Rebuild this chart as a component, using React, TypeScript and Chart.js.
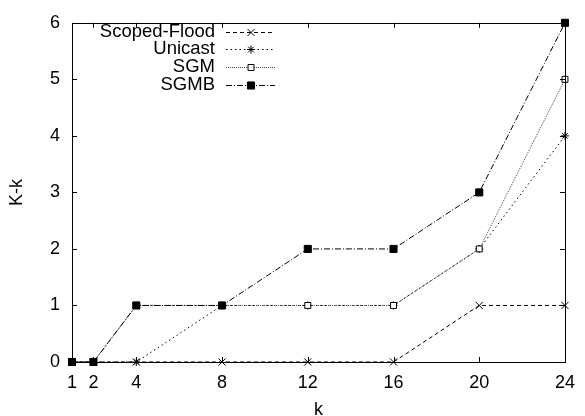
import React, { useEffect, useRef } from "react";
import { Chart, registerables } from "chart.js";

Chart.register(...registerables);

// k values along the x axis (also the x tick positions)
const kValues = [1, 2, 4, 8, 12, 16, 20, 24];
// K-k for each scheme
const scopedFlood = [0, 0, 0, 0, 0, 0, 1, 1];
const unicast = [0, 0, 0, 1, 1, 1, 2, 4];
const sgm = [0, 0, 1, 1, 1, 1, 2, 5];
const sgmb = [0, 0, 1, 1, 2, 2, 3, 6];
const yTicks = [0, 1, 2, 3, 4, 5, 6];
const seriesNames = ["Scoped-Flood", "Unicast", "SGM", "SGMB"];

const FONT = "'Liberation Sans', Arial, Helvetica, sans-serif";

type SeriesStyle = {
  dash: number[];
  line: string;
  point: string;
  radius: number;
  fill: string;
  order: number;
};

const styles: SeriesStyle[] = [
  { dash: [4, 3], line: "#000", point: "crossRot", radius: 5, fill: "#000", order: 3 },
  { dash: [1.5, 3], line: "#000", point: "star", radius: 4, fill: "#000", order: 2 },
  { dash: [1, 1], line: "#444", point: "rect", radius: 4.2, fill: "#fff", order: 1 },
  { dash: [6, 2, 1, 2], line: "#000", point: "rect", radius: 5, fill: "#000", order: 0 },
];

const seriesValues = [scopedFlood, unicast, sgm, sgmb];

// Frame with inward ticks on all four sides
const framePlugin = {
  id: "frame",
  afterDatasetsDraw(chart: any) {
    const { ctx, chartArea: a, scales } = chart;
    const xs = scales.x;
    const ys = scales.y;
    const len = 5;
    ctx.save();
    ctx.strokeStyle = "#000";
    ctx.lineWidth = 1;
    ctx.setLineDash([]);
    ctx.beginPath();
    for (const v of kValues) {
      const px = Math.round(xs.getPixelForValue(v)) + 0.5;
      ctx.moveTo(px, a.bottom);
      ctx.lineTo(px, a.bottom - len);
      ctx.moveTo(px, a.top);
      ctx.lineTo(px, a.top + len);
    }
    for (const v of yTicks) {
      const py = Math.round(ys.getPixelForValue(v)) + 0.5;
      ctx.moveTo(a.left, py);
      ctx.lineTo(a.left + len, py);
      ctx.moveTo(a.right, py);
      ctx.lineTo(a.right - len, py);
    }
    ctx.stroke();
    ctx.strokeRect(
      Math.round(a.left) + 0.5,
      Math.round(a.top) + 0.5,
      Math.round(a.right - a.left),
      Math.round(a.bottom - a.top)
    );
    ctx.restore();
  },
};

function drawMarker(ctx: CanvasRenderingContext2D, s: SeriesStyle, x: number, y: number) {
  const r = s.radius;
  ctx.beginPath();
  if (s.point === "rect") {
    const h = Math.SQRT1_2 * r;
    ctx.rect(x - h, y - h, 2 * h, 2 * h);
    ctx.fill();
    ctx.stroke();
    return;
  }
  const d = Math.SQRT1_2 * r;
  ctx.moveTo(x - d, y - d);
  ctx.lineTo(x + d, y + d);
  ctx.moveTo(x - d, y + d);
  ctx.lineTo(x + d, y - d);
  if (s.point === "star") {
    ctx.moveTo(x - r, y);
    ctx.lineTo(x + r, y);
    ctx.moveTo(x, y - r);
    ctx.lineTo(x, y + r);
  }
  ctx.stroke();
}

// Key: right-aligned names followed by a line sample with its marker
const keyPlugin = {
  id: "key",
  afterDraw(chart: any) {
    const { ctx } = chart;
    ctx.save();
    ctx.font = `18.5px ${FONT}`;
    ctx.textAlign = "right";
    ctx.textBaseline = "middle";
    seriesNames.forEach((name, i) => {
      const y = 31.5 + i * 17.8;
      const ly = Math.round(y) + 0.5;
      const s = styles[i];
      ctx.fillStyle = "#000";
      ctx.fillText(name, 215, y);
      ctx.beginPath();
      ctx.setLineDash(s.dash);
      ctx.strokeStyle = s.line;
      ctx.lineWidth = 1;
      ctx.moveTo(226, ly);
      ctx.lineTo(275, ly);
      ctx.stroke();
      ctx.setLineDash([]);
      ctx.strokeStyle = "#000";
      ctx.fillStyle = s.fill;
      drawMarker(ctx, s, 251, ly);
    });
    ctx.restore();
  },
};

export default function App() {
  const canvasRef = useRef<HTMLCanvasElement | null>(null);

  useEffect(() => {
    document.body.style.margin = "0";
    const canvas = canvasRef.current;
    if (!canvas) return;

    const datasets = seriesNames.map((name, i) => {
      const s = styles[i];
      return {
        label: name,
        data: kValues.map((k, j) => ({ x: k, y: seriesValues[i][j] })),
        borderColor: s.line,
        borderWidth: 1,
        borderDash: s.dash,
        backgroundColor: s.fill,
        pointStyle: s.point,
        pointRadius: s.radius,
        pointBorderColor: "#000",
        pointBackgroundColor: s.fill,
        pointBorderWidth: 1,
        fill: false,
        tension: 0,
        clip: false,
        order: s.order,
      };
    });

    const chart = new Chart(canvas, {
      type: "line",
      data: { datasets: datasets as any },
      options: {
        animation: false,
        responsive: true,
        maintainAspectRatio: false,
        layout: { padding: { top: 16, right: 13, left: 0, bottom: 0 } },
        plugins: {
          legend: { display: false },
          tooltip: { enabled: false },
        },
        scales: {
          x: {
            type: "linear",
            min: 1,
            max: 24,
            afterBuildTicks: (axis: any) => {
              axis.ticks = kValues.map((v) => ({ value: v }));
            },
            afterFit: (axis: any) => {
              axis.height = 54;
            },
            grid: { display: false, drawTicks: false },
            border: { display: false },
            ticks: {
              autoSkip: false,
              maxRotation: 0,
              padding: 10,
              color: "#000",
              font: { family: FONT, size: 18 },
            },
            title: {
              display: true,
              text: "k",
              color: "#000",
              padding: 0,
              font: { family: FONT, size: 18, lineHeight: 0.7 },
            },
          },
          y: {
            type: "linear",
            min: 0,
            max: 6,
            afterBuildTicks: (axis: any) => {
              axis.ticks = yTicks.map((v) => ({ value: v }));
            },
            afterFit: (axis: any) => {
              axis.width = 72;
            },
            grid: { display: false, drawTicks: false },
            border: { display: false },
            ticks: {
              padding: 12,
              color: "#000",
              font: { family: FONT, size: 18 },
            },
            title: {
              display: true,
              text: "K-k",
              color: "#000",
              padding: 0,
              font: { family: FONT, size: 18, lineHeight: 1.9 },
            },
          },
        },
      },
      plugins: [framePlugin, keyPlugin],
    });

    return () => chart.destroy();
  }, []);

  return (
    <div style={{ position: "relative", width: 585, height: 416, background: "#fff" }}>
      <canvas ref={canvasRef} />
    </div>
  );
}
